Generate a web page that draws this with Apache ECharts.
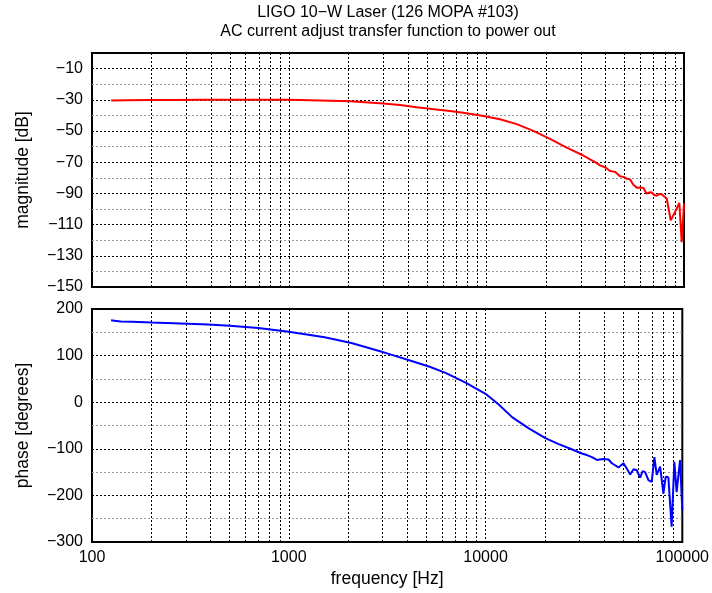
<!DOCTYPE html>
<html>
<head>
<meta charset="utf-8">
<script src="https://cdn.jsdelivr.net/npm/echarts@6/dist/echarts.min.js"></script>
<style>
html,body{margin:0;padding:0;background:#fff;}
#chart{width:712px;height:593px;}
</style>
</head>
<body>
<div id="chart"></div>
<script>
var titleLines = ['LIGO 10\u2212W Laser (126 MOPA #103)', 'AC current adjust transfer function to power out'];
var xTickValues = [100, 1000, 10000, 100000];
var minorFreqs = [200,300,400,500,600,700,800,900,2000,3000,4000,5000,6000,7000,8000,9000,20000,30000,40000,50000,60000,70000,80000,90000];

var freqMag = [125,150,197,260,352,450,632,800,1000,1431,2029,2994,3637,4420,5400,6520,7920,9620,11680,14200,17230,20940,25440,30890,33400,35500,37520,40000,42180,44720,47390,49300,51250,53270,55400,57600,60000,62220,64720,66700,68600,70600,72720,74900,77130,79400,81740,85650,90070,94700,97370,100000];
var magnitude = [-30.4,-30.3,-30.2,-30.1,-30.0,-30.0,-29.9,-29.9,-30.0,-30.4,-30.9,-32.3,-33.4,-34.8,-36.0,-37.2,-38.6,-40.4,-42.5,-45.6,-49.9,-55.0,-60.6,-65.7,-68.2,-70.0,-72.0,-73.4,-75.6,-76.2,-79.0,-79.4,-80.6,-81.0,-84.5,-86.3,-86.2,-86.5,-90.2,-89.4,-89.3,-91.0,-91.5,-90.4,-90.6,-92.0,-93.3,-107.3,-101.9,-96.1,-121.2,-96.5];

var freqPhase = [125,130,140,160,201,260,390,500,700,1000,1521,2080,2882,3312,4248,5200,6263,7917,10000,11670,13640,16590,20150,23540,27000,30890,33000,34720,36800,39500,42180,43830,47390,50250,52300,54330,56500,58680,61050,62900,64720,67250,69910,72140,74100,77130,80140,82310,84940,88270,91100,93580,97370,100000];
var phase = [176,175,173,172.5,171,169.5,166.5,164,159,151,139.5,127,110,102,88,76,63,42,18,-5,-32,-56,-77,-90,-100,-110,-114,-118,-124,-122,-123,-131,-140,-131,-143,-155,-144,-146,-162,-148,-150,-167,-171,-118,-156,-138,-196,-160,-161,-267,-128,-193,-124,-232];

function pairs(xs, ys){ return xs.map(function(x,i){ return [x, ys[i]]; }); }
function minus(s){ return String(s).replace('-', '\u2212'); }

var FONT = 'Liberation Sans, Arial, Helvetica, sans-serif';
var dotBlack = {color:'#000', width:1, type:[2,2]};

function minorLines(){
  return {
    silent:true, symbol:'none', label:{show:false},
    lineStyle:{color:'#000', width:1, type:[2,2]},
    data: minorFreqs.map(function(f){ return {xAxis:f}; }),
    animation:false
  };
}

var chart = echarts.init(document.getElementById('chart'), null, {renderer:'canvas'});
chart.setOption({
  animation:false,
  backgroundColor:'#fff',
  title:{
    text: titleLines.join('\n'),
    left: 388, top: 3, textAlign:'center', padding:0,
    textStyle:{fontFamily:FONT, fontSize:16, fontWeight:'normal', color:'#000', lineHeight:19}
  },
  grid:[
    {left:92, top:53, width:592, height:234, show:true, borderColor:'#000', borderWidth:2, backgroundColor:'transparent'},
    {left:92, top:309, width:592, height:233, show:true, borderColor:'#000', borderWidth:2, backgroundColor:'transparent'}
  ],
  xAxis:[
    {type:'log', gridIndex:0, min:100, max:100000, logBase:10,
     axisLine:{show:false}, axisTick:{show:false}, axisLabel:{show:false},
     splitLine:{show:true, showMinLine:false, showMaxLine:false, lineStyle:dotBlack}},
    {type:'log', gridIndex:1, min:100, max:100000, logBase:10,
     name:'frequency [Hz]', nameLocation:'middle', nameGap:28,
     nameTextStyle:{fontFamily:FONT, fontSize:17.5, color:'#000'},
     axisLine:{show:false}, axisTick:{show:false},
     axisLabel:{fontFamily:FONT, fontSize:16, color:'#000', margin:8,
       formatter:function(v){ return String(Math.round(v)); }},
     splitLine:{show:true, showMinLine:false, showMaxLine:false, lineStyle:dotBlack}}
  ],
  yAxis:[
    {type:'value', gridIndex:0, min:-150, max:0, interval:10,
     name:'magnitude [dB]', nameLocation:'middle', nameGap:60,
     nameTextStyle:{fontFamily:FONT, fontSize:17.5, color:'#000'},
     axisLine:{show:false}, axisTick:{show:false},
     axisLabel:{fontFamily:FONT, fontSize:16, color:'#000', margin:9,
       formatter:function(v){ return ((v+10)%20===0) ? minus(v) : ''; }},
     splitLine:{show:true, showMaxLine:false, lineStyle:{color:['#000','#999'], width:1, type:[2,2]}}},
    {type:'value', gridIndex:1, min:-300, max:200, interval:50,
     name:'phase [degrees]', nameLocation:'middle', nameGap:60,
     nameTextStyle:{fontFamily:FONT, fontSize:17.5, color:'#000'},
     axisLine:{show:false}, axisTick:{show:false},
     axisLabel:{fontFamily:FONT, fontSize:16, color:'#000', margin:9,
       formatter:function(v){ return (v%100===0) ? minus(v) : ''; }},
     splitLine:{show:true, lineStyle:{color:['#000','#999'], width:1, type:[2,2]}}}
  ],
  series:[
    {type:'line', xAxisIndex:0, yAxisIndex:0, data:pairs(freqMag, magnitude),
     showSymbol:false, lineStyle:{color:'#ff0000', width:2}, itemStyle:{color:'#ff0000'},
     markLine:minorLines(), z:5},
    {type:'line', xAxisIndex:1, yAxisIndex:1, data:pairs(freqPhase, phase),
     showSymbol:false, lineStyle:{color:'#0000ff', width:2}, itemStyle:{color:'#0000ff'},
     markLine:minorLines(), z:5}
  ]
});
</script>
</body>
</html>
